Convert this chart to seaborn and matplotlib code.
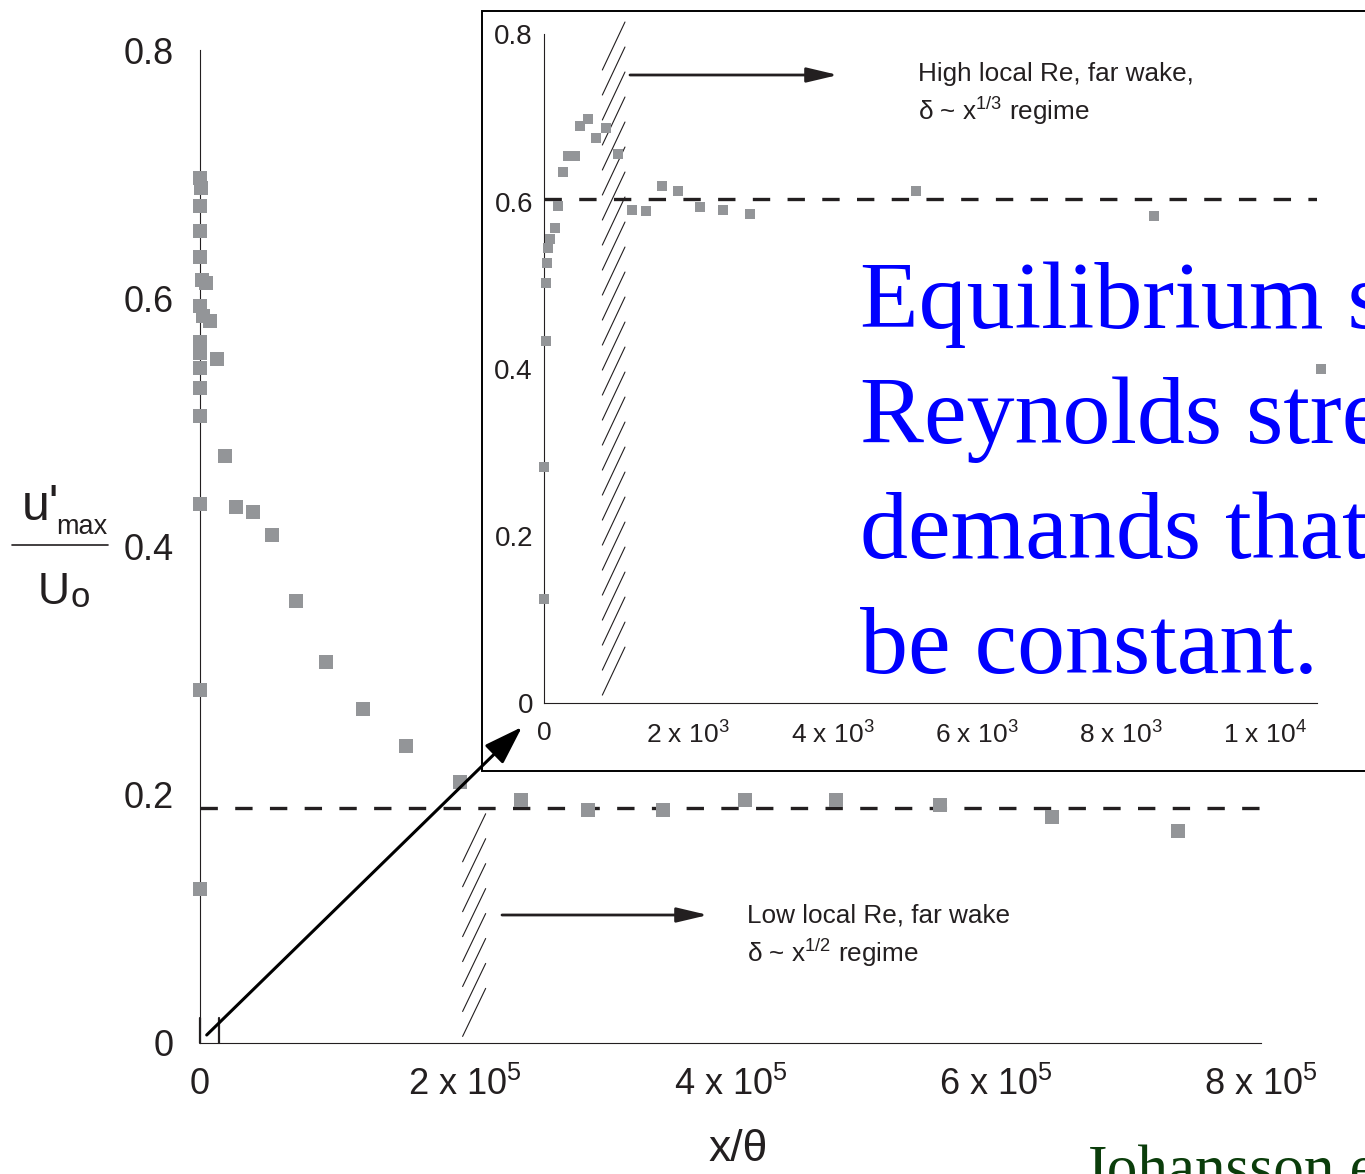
import numpy as np
import matplotlib
matplotlib.use("Agg")
import matplotlib.pyplot as plt
from matplotlib.patches import Rectangle
from matplotlib.lines import Line2D
import seaborn as sns

# ---- far-wake data: x/theta and u'_max/U_o ----
main_x = [0, 500, 0, 0, 0, 1300, 4500, 0, 2300, 7500, 0, 0, 0, 12600, 0, 0,
          18800, 0, 26900, 39700, 54500, 72600, 95200, 0, 122900, 155600,
          195900, 242000, 292500, 349400, 411200, 479800, 557800, 642600,
          737200, 0]
main_u = [0.697, 0.689, 0.674, 0.654, 0.633, 0.615, 0.612, 0.594, 0.586, 0.582,
          0.565, 0.556, 0.544, 0.551, 0.528, 0.505, 0.473, 0.434, 0.432, 0.428,
          0.409, 0.356, 0.307, 0.284, 0.269, 0.239, 0.2105, 0.1955, 0.188,
          0.188, 0.1955, 0.1955, 0.1917, 0.182, 0.171, 0.124]

# ---- near-wake detail (inset) ----
inset_x = [0, 0, 28, 28, 37, 55, 83, 153, 194, 259, 333, 430, 499, 606, 721,
           860, 1026, 1214, 1410, 1632, 1865, 2164, 2483, 2853, 5160, 8456,
           10777]
inset_u = [0.125, 0.283, 0.433, 0.503, 0.527, 0.544, 0.555, 0.568, 0.595,
           0.635, 0.654, 0.654, 0.690, 0.699, 0.676, 0.688, 0.657, 0.590,
           0.589, 0.618, 0.613, 0.594, 0.590, 0.585, 0.613, 0.583, 0.400]

main_plateau = 0.189
inset_plateau = 0.603

main_xticks = [0, 2e5, 4e5, 6e5, 8e5]
main_xticklabels = ["0", r"2 x 10$^\mathrm{5}$", r"4 x 10$^\mathrm{5}$",
                    r"6 x 10$^\mathrm{5}$", r"8 x 10$^\mathrm{5}$"]
main_yticks = [0, 0.2, 0.4, 0.6, 0.8]
main_yticklabels = ["0", "0.2", "0.4", "0.6", "0.8"]
inset_xticks = [0, 2e3, 4e3, 6e3, 8e3, 1e4]
inset_xticklabels = ["0", r"2 x 10$^\mathrm{3}$", r"4 x 10$^\mathrm{3}$",
                     r"6 x 10$^\mathrm{3}$", r"8 x 10$^\mathrm{3}$",
                     r"1 x 10$^\mathrm{4}$"]
inset_yticks = [0, 0.2, 0.4, 0.6, 0.8]
inset_yticklabels = ["0", "0.2", "0.4", "0.6", "0.8"]

sns.set_theme(style="white")
plt.rcParams["font.family"] = ["Liberation Sans", "DejaVu Sans"]
plt.rcParams["mathtext.fontset"] = "custom"
plt.rcParams["mathtext.rm"] = "Liberation Sans"
plt.rcParams["mathtext.it"] = "Liberation Sans:italic"
plt.rcParams["lines.scale_dashes"] = False

INK = "#231f20"
GRAY = "#939598"
W, H = 1365, 1174


def fx(px):
    return px / W


def fy(py):
    return 1 - py / H


fig = plt.figure(figsize=(W / 100, H / 100), dpi=100)
fig.patch.set_facecolor("white")

# ================= main axes =================
ax = fig.add_axes([fx(200), fy(1043), 1061 / W, (1043 - 50) / H], zorder=0)
ax.set_facecolor("none")
sns.scatterplot(x=main_x, y=main_u, marker="s", s=88, color=GRAY,
                linewidth=0, ax=ax, clip_on=False, legend=False, zorder=3)
ax.plot([0, 8e5], [main_plateau, main_plateau], color=INK, lw=2.4,
        linestyle=(0, (12.5, 12.5)), zorder=2)

ax.set_xlim(0, 8e5)
ax.set_ylim(0, 0.8)
for side in ("top", "right"):
    ax.spines[side].set_visible(False)
for side in ("left", "bottom"):
    ax.spines[side].set_linewidth(0.8)
    ax.spines[side].set_color(INK)
ax.set_xticks(main_xticks)
ax.set_xticklabels(main_xticklabels)
ax.set_yticks(main_yticks)
ax.set_yticklabels(main_yticklabels)
ax.set_xticks(np.arange(1e5, 8e5, 2e5), minor=True)
ax.set_yticks([0.1, 0.3, 0.5, 0.7], minor=True)
ax.tick_params(axis="both", which="both", direction="out", length=7,
               width=0.8, color=INK, labelcolor=INK)
ax.tick_params(axis="y", labelsize=26, pad=12)
ax.tick_params(axis="x", labelsize=26, pad=10)
ax.set_xlabel("x/θ", fontsize=32, color=INK)
ax.xaxis.set_label_coords(0.507, -0.087)
ax.set_ylabel("")


def slashes(target, x0, x1, bottoms, height):
    for b in bottoms:
        target.add_line(Line2D([x0, x1], [b, b + height], lw=0.8, color=INK,
                               clip_on=False, zorder=2))


# hatched band marking the regime change in the far wake
slashes(ax, 198e3, 215.4e3, 0.146 - 0.0201 * np.arange(8), 0.0387)

# markers bounding the zoomed range near the origin
ax.plot([0, 0], [0, 0.02], color=INK, lw=1.6, clip_on=False)
ax.plot([14.3e3, 14.3e3], [0, 0.02], color=INK, lw=1.6, clip_on=False)

ax.annotate("", xy=(fx(708), fy(915)), xytext=(fx(502), fy(915)),
            xycoords="figure fraction", textcoords="figure fraction",
            arrowprops=dict(arrowstyle="-|>,head_length=1.9,head_width=0.45",
                            mutation_scale=10, lw=2, color=INK,
                            shrinkA=0, shrinkB=0))
fig.text(fx(747), fy(923), "Low local Re, far wake", fontsize=18.8,
         color=INK, va="baseline")
fig.text(fx(747), fy(962), r"δ ~ x$^\mathrm{1/2}$ regime", fontsize=18.8,
         color=INK, va="baseline")

# stacked y-axis label u'_max / U_o
fig.text(fx(22), fy(520), "u'", fontsize=36, color=INK, va="baseline")
fig.text(fx(56), fy(534), "max", fontsize=19.5, color=INK, va="baseline")
fig.add_artist(Line2D([fx(12), fx(108)], [fy(545), fy(545)], lw=1.2,
                      color=INK))
fig.text(fx(38), fy(604), "U", fontsize=32, color=INK, va="baseline")
fig.text(fx(71), fy(607), "o", fontsize=25, color=INK, va="baseline")

# ================= inset =================
fig.add_artist(Rectangle((fx(482), fy(771)), 1.2, (771 - 11) / H,
                         transform=fig.transFigure, facecolor="white",
                         edgecolor="black", lw=1.4, zorder=1))

ax2 = fig.add_axes([fx(544), fy(703.3), (1317 - 544) / W, (703.3 - 34.3) / H],
                   zorder=2)
ax2.set_facecolor("none")
sns.scatterplot(x=inset_x, y=inset_u, marker="s", s=42, color=GRAY,
                linewidth=0, ax=ax2, clip_on=False, legend=False, zorder=3)
ax2.plot([0, 10720], [inset_plateau, inset_plateau], color=INK, lw=2.4,
         linestyle=(0, (12.5, 12.5)), zorder=2)
ax2.set_xlim(0, 10720)
ax2.set_ylim(0, 0.8)
for side in ("top", "right"):
    ax2.spines[side].set_visible(False)
for side in ("left", "bottom"):
    ax2.spines[side].set_linewidth(0.8)
    ax2.spines[side].set_color(INK)
ax2.set_xticks(inset_xticks)
ax2.set_xticklabels(inset_xticklabels)
ax2.set_yticks(inset_yticks)
ax2.set_yticklabels(inset_yticklabels)
ax2.set_xticks(np.arange(1e3, 1.05e4, 2e3), minor=True)
ax2.set_yticks([0.1, 0.3, 0.5, 0.7], minor=True)
ax2.tick_params(axis="both", which="both", direction="out", width=0.8,
                color=INK, labelcolor=INK)
ax2.tick_params(axis="y", which="both", length=4, labelsize=20, pad=4)
ax2.tick_params(axis="x", which="both", length=5, labelsize=19, pad=8)

slashes(ax2, 809, 1123, 0.7573 - 0.0299 * np.arange(26), 0.0574)

ax2.annotate("", xy=(fx(838), fy(75)), xytext=(fx(630), fy(75)),
             xycoords="figure fraction", textcoords="figure fraction",
             arrowprops=dict(arrowstyle="-|>,head_length=1.9,head_width=0.45",
                             mutation_scale=10, lw=2, color=INK,
                             shrinkA=0, shrinkB=0))
fig.text(fx(918), fy(81), "High local Re, far wake,", fontsize=18.8,
         color=INK, va="baseline", zorder=3)
fig.text(fx(918), fy(120), r"δ ~ x$^\mathrm{1/3}$ regime", fontsize=18.8,
         color=INK, va="baseline", zorder=3)

# arrow from the origin region up to the inset
ax2.annotate("", xy=(fx(522), fy(727)), xytext=(fx(206.7), fy(1035)),
             xycoords="figure fraction", textcoords="figure fraction",
             arrowprops=dict(arrowstyle="-|>,head_length=2.4,head_width=0.8",
                             mutation_scale=10, lw=2.2, color="black",
                             shrinkA=0, shrinkB=0), zorder=4)

# ================= overlaid note =================
note_lines = ["Equilibrium similarity of the", "Reynolds stress",
              "demands that", "be constant."]
for line, base in zip(note_lines, [328, 443, 558, 673]):
    fig.text(fx(860), fy(base), line, fontsize=69, color="#0000ff",
             family="Liberation Serif", va="baseline", zorder=5)

fig.text(fx(1083), fy(1188), "Johansson et al.", fontsize=44,
         color="#0b3d0b", family="Liberation Serif", va="baseline", zorder=5)

fig.savefig("out.png", dpi=100)
